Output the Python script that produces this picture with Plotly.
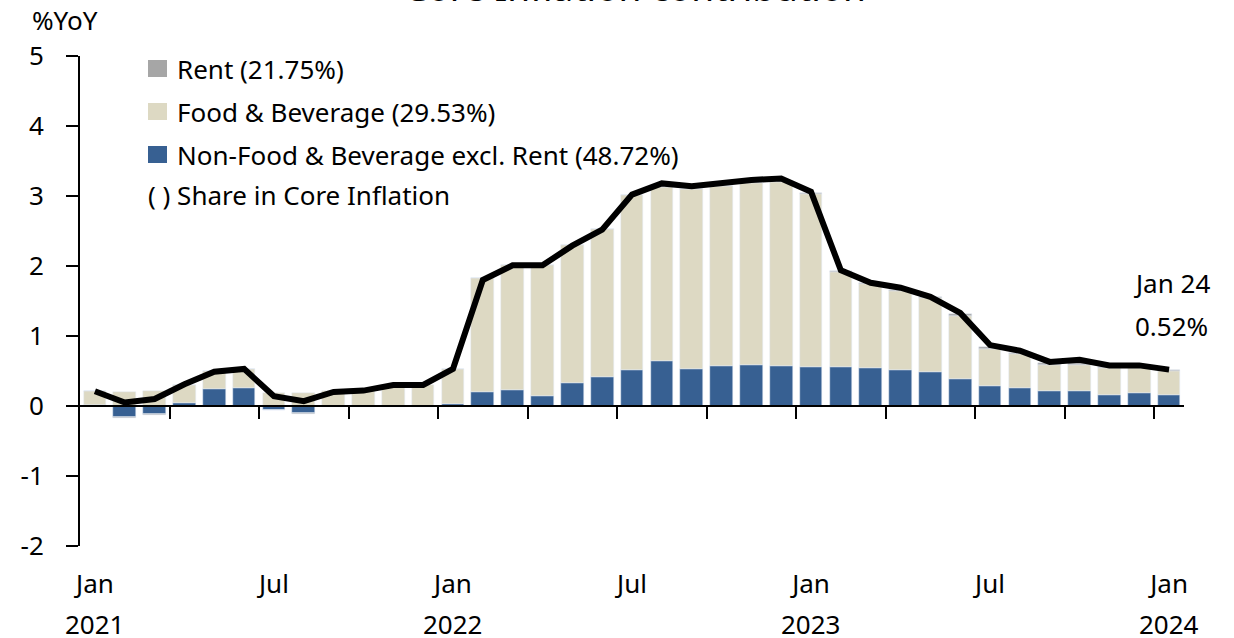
import plotly.graph_objects as go

months = ["Jan 2021","Feb 2021","Mar 2021","Apr 2021","May 2021","Jun 2021","Jul 2021","Aug 2021","Sep 2021","Oct 2021","Nov 2021","Dec 2021",
          "Jan 2022","Feb 2022","Mar 2022","Apr 2022","May 2022","Jun 2022","Jul 2022","Aug 2022","Sep 2022","Oct 2022","Nov 2022","Dec 2022",
          "Jan 2023","Feb 2023","Mar 2023","Apr 2023","May 2023","Jun 2023","Jul 2023","Aug 2023","Sep 2023","Oct 2023","Nov 2023","Dec 2023",
          "Jan 2024"]

non_food = [0.01, -0.16, -0.12, 0.05, 0.24, 0.26, -0.05, -0.10, 0.00, 0.00, 0.00, 0.00,
            0.03, 0.20, 0.23, 0.15, 0.33, 0.42, 0.51, 0.64, 0.53, 0.57, 0.58, 0.57,
            0.56, 0.56, 0.55, 0.51, 0.49, 0.39, 0.29, 0.26, 0.21, 0.21, 0.16, 0.18,
            0.16]
food = [0.20, 0.20, 0.21, 0.25, 0.26, 0.27, 0.19, 0.19, 0.21, 0.23, 0.30, 0.30,
        0.50, 1.63, 1.78, 1.86, 1.97, 2.11, 2.50, 2.49, 2.57, 2.58, 2.61, 2.63,
        2.47, 1.36, 1.20, 1.14, 1.05, 0.90, 0.52, 0.48, 0.38, 0.38, 0.39, 0.37,
        0.34]
rent = [0.00, -0.01, -0.01, 0.00, 0.00, 0.00, -0.01, -0.01, -0.01, -0.02, -0.01, -0.01,
        0.00, 0.00, 0.00, 0.00, 0.00, 0.00, 0.00, 0.00, 0.00, 0.00, 0.01, 0.01,
        0.02, 0.01, 0.01, 0.01, 0.02, 0.03, 0.03, 0.02, 0.03, 0.02, 0.01, 0.01,
        0.01]
core = [0.21, 0.05, 0.10, 0.31, 0.49, 0.53, 0.14, 0.07, 0.20, 0.22, 0.30, 0.30,
        0.53, 1.80, 2.01, 2.01, 2.29, 2.52, 3.02, 3.18, 3.14, 3.19, 3.23, 3.25,
        3.06, 1.94, 1.76, 1.69, 1.56, 1.33, 0.87, 0.79, 0.63, 0.66, 0.58, 0.58,
        0.52]

tick_idx = [0, 6, 12, 18, 24, 30, 36]
tick_text = ["Jan", "Jul", "Jan", "Jul", "Jan", "Jul", "Jan"]
year_idx = [0, 12, 24, 36]
year_text = ["2021", "2022", "2023", "2024"]
sep_ticks = [2.5, 5.5, 8.5, 11.5, 14.5, 17.5, 20.5, 23.5, 26.5, 29.5, 32.5, 35.5]
y_ticks = [-2, -1, 0, 1, 2, 3, 4, 5]
y_text = ["-2", "-1", "0", "1", "2", "3", "4", "5"]

legend_items = ["Rent (21.75%)", "Food & Beverage (29.53%)", "Non-Food & Beverage excl. Rent (48.72%)"]
legend_colors = ["#a6a6a6", "#ddd9c3", "#376092"]

FONT = "Noto Sans"
x = list(range(len(months)))

fig = go.Figure()
fig.add_trace(go.Bar(x=x, y=non_food, marker_color="#376092", width=0.76, name=legend_items[2], hovertext=months))
fig.add_trace(go.Bar(x=x, y=food, marker_color="#ddd9c3", width=0.76, name=legend_items[1], hovertext=months))
fig.add_trace(go.Bar(x=x, y=rent, marker_color="#a6a6a6", width=0.76, name=legend_items[0], hovertext=months))
fig.add_trace(go.Scatter(x=x, y=core, mode="lines", line=dict(color="black", width=6), name="Core", hovertext=months))
fig.add_trace(go.Scatter(x=[sep_ticks[0]], y=[0], xaxis="x2", mode="markers", marker=dict(opacity=0),
                         showlegend=False, hoverinfo="skip"))

W, H = 1234, 638
L, R, T, B = 80, 50, 56, 92
pw, ph = W - L - R, H - T - B

def px(xp):
    return (xp - L) / pw

def py(yp):
    return (H - B - yp) / ph

fig.update_layout(
    width=W, height=H,
    margin=dict(l=L, r=R, t=T, b=B),
    barmode="relative",
    bargap=0,
    showlegend=False,
    plot_bgcolor="white", paper_bgcolor="white",
    font=dict(family=FONT, size=26, color="black"),
    xaxis=dict(range=[-0.5, 36.5], tickvals=tick_idx, ticktext=tick_text, ticks="", showline=False,
               showgrid=False, zeroline=False, tickfont=dict(size=26), ticklabelstandoff=20),
    xaxis2=dict(range=[-0.5, 36.5], overlaying="x", anchor="free", position=2/7, tickvals=sep_ticks,
                showticklabels=False, ticks="outside", ticklen=12, tickwidth=2, tickcolor="black",
                showline=True, linecolor="black", linewidth=2, showgrid=False, zeroline=False),
    yaxis=dict(range=[-2, 5], tickvals=y_ticks, ticktext=y_text, ticks="outside", ticklen=12,
               tickwidth=2, tickcolor="black", showline=True, linecolor="black", linewidth=2,
               showgrid=False, zeroline=False, tickfont=dict(size=26), ticklabelstandoff=17),
)

ann = []
ann.append(dict(text="Core Inflation contribution", xref="paper", yref="paper", x=px(635), y=py(14),
                xanchor="center", yanchor="bottom", showarrow=False, font=dict(size=37)))
ann.append(dict(text="%YoY", xref="paper", yref="paper", x=px(65), y=py(20), xanchor="center",
                yanchor="middle", showarrow=False, font=dict(size=26)))
for i, yt in zip(year_idx, year_text):
    ann.append(dict(text=yt, x=i, xref="x", yref="paper", y=py(624), xanchor="center", yanchor="middle",
                    showarrow=False, font=dict(size=26)))
ann.append(dict(text="Jan 24", x=px(1171), y=py(283), xref="paper", yref="paper", xanchor="center",
                yanchor="middle", showarrow=False, font=dict(size=26)))
ann.append(dict(text="0.52%", x=px(1171), y=py(326), xref="paper", yref="paper", xanchor="center",
                yanchor="middle", showarrow=False, font=dict(size=26)))

rows = [69, 112, 155]
shapes = []
for r, txt, c in zip(rows, legend_items, legend_colors):
    shapes.append(dict(type="rect", xref="paper", yref="paper", x0=px(148), x1=px(167), y0=py(r - 9), y1=py(r + 8),
                       fillcolor=c, line=dict(width=0)))
    ann.append(dict(text=txt, x=px(175), y=py(r), xref="paper", yref="paper", xanchor="left", yanchor="middle",
                    showarrow=False, font=dict(size=26)))
ann.append(dict(text="( ) Share in Core Inflation", x=px(146), y=py(195), xref="paper", yref="paper",
                xanchor="left", yanchor="middle", showarrow=False, font=dict(size=26)))

fig.update_layout(annotations=ann, shapes=shapes)
fig.write_html("out.html", config={"displayModeBar": False},
               post_script="document.body.style.margin='0';document.body.style.overflow='hidden';")
